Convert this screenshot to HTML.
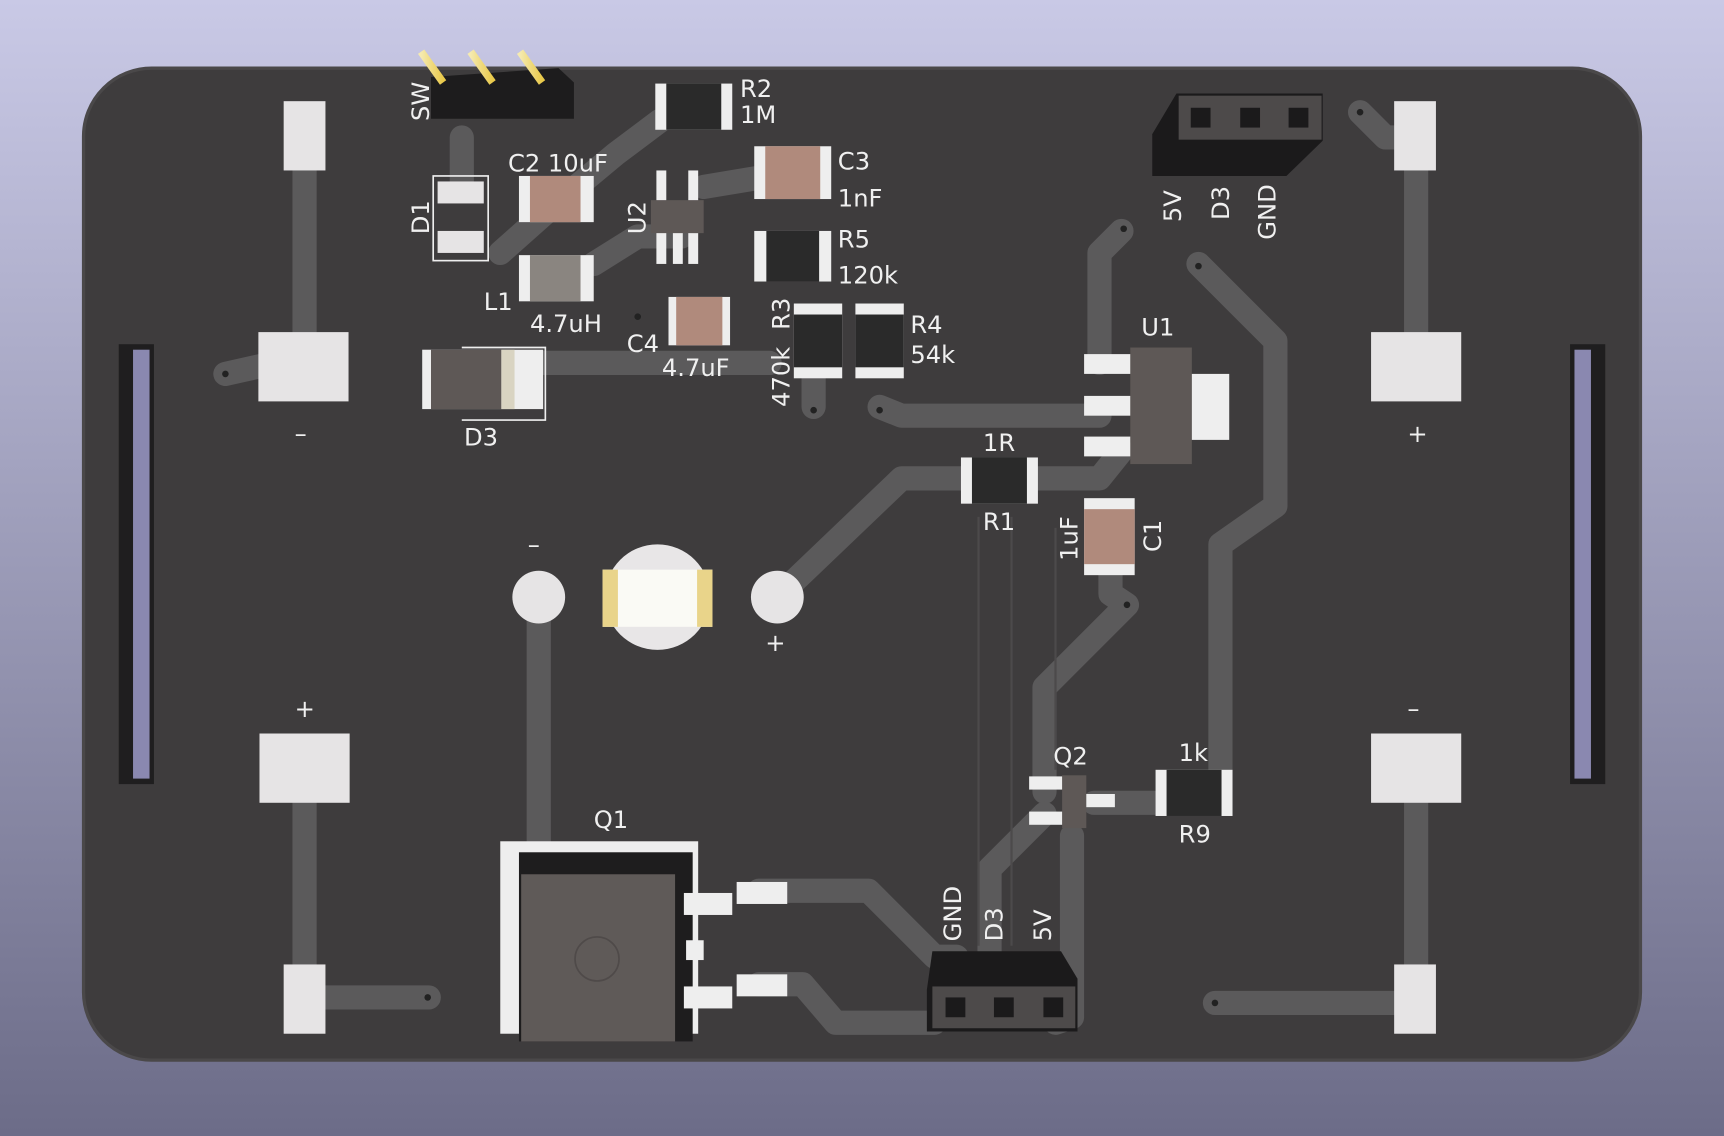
<!DOCTYPE html>
<html><head><meta charset="utf-8"><style>
html,body{margin:0;padding:0;width:1724px;height:1136px;overflow:hidden}
svg{display:block}
text{font-family:"DejaVu Sans","Liberation Sans",sans-serif;fill:#f0f0f0;font-size:22px}
</style></head><body>
<svg width="1724" height="1136" viewBox="0 0 1568 1033" preserveAspectRatio="none">
<defs>
<linearGradient id="bg" x1="0" y1="0" x2="0" y2="1"><stop offset="0" stop-color="#c9c9e6"/><stop offset="1" stop-color="#6c6c88"/></linearGradient>
<linearGradient id="gold" x1="0" y1="0" x2="1" y2="0"><stop offset="0" stop-color="#f5eab0"/><stop offset="1" stop-color="#e9c94a"/></linearGradient>
</defs>
<rect width="1568" height="1033" fill="url(#bg)"/>
<rect x="76" y="62" width="1416" height="902" rx="62" fill="#3e3c3d" stroke="#4a4849" stroke-width="3"/>
<!-- slots -->
<rect x="108" y="313" width="32" height="400" fill="#1f1e1f"/><rect x="121" y="318" width="15" height="390" fill="#8a88b0"/>
<rect x="1428" y="313" width="32" height="400" fill="#1f1e1f"/><rect x="1432" y="318" width="15" height="390" fill="#8a88b0"/>
<!-- traces -->
<g fill="none" stroke="#5b5a5b" stroke-width="22" stroke-linecap="round" stroke-linejoin="round">
<polyline points="277,150 277,310"/><polyline points="205,340 250,330"/>
<polyline points="1288,150 1288,310"/><polyline points="1237,102 1260,125 1280,125"/>
<polyline points="277,720 277,890"/><polyline points="290,907 390,907"/>
<polyline points="1288,720 1288,890"/><polyline points="1105,912 1280,912"/>
<polyline points="490,543 490,780"/>
<polyline points="707,543 820,435 900,435"/><polyline points="940,435 1000,435 1020,410"/>
<polyline points="740,370 740,320"/><polyline points="800,370 820,378 1000,378"/>
<polyline points="1000,330 1000,230 1020,210"/>
<polyline points="1090,240 1160,310 1160,460 1110,495 1110,720"/>
<polyline points="1010,505 1010,540 1025,550 950,625 950,720"/>
<polyline points="995,730 1050,730"/>
<polyline points="950,740 900,790 900,865"/>
<polyline points="975,760 975,925 960,930"/>
<polyline points="690,810 790,810 850,870 870,870"/>
<polyline points="690,895 730,895 760,930 850,930"/>
<polyline points="490,330 700,330"/><polyline points="420,125 420,170"/>
<polyline points="455,230 500,190 560,140 600,110"/>
<polyline points="540,240 580,215 620,215"/>
<polyline points="640,170 700,160"/>
</g>
<g stroke="#4c4a4b" stroke-width="2" fill="none"><line x1="890" y1="470" x2="890" y2="860"/><line x1="920" y1="470" x2="920" y2="860"/><line x1="960" y1="480" x2="960" y2="700"/></g>
<!-- battery pads -->
<g fill="#e6e4e5">
<rect x="258" y="92" width="38" height="63"/><rect x="235" y="302" width="82" height="63"/>
<rect x="1268" y="92" width="38" height="63"/><rect x="1247" y="302" width="82" height="63"/>
<rect x="236" y="667" width="82" height="63"/><rect x="258" y="877" width="38" height="63"/>
<rect x="1247" y="667" width="82" height="63"/><rect x="1268" y="877" width="38" height="63"/>
</g>
<g fill="#222"><circle cx="205" cy="340" r="3"/><circle cx="389" cy="907" r="3"/><circle cx="1105" cy="912" r="3"/><circle cx="1237" cy="102" r="3"/><circle cx="740" cy="373" r="3"/><circle cx="800" cy="373" r="3"/><circle cx="1022" cy="208" r="3"/><circle cx="1090" cy="242" r="3"/><circle cx="1025" cy="550" r="3"/><circle cx="580" cy="288" r="3"/></g>
<text x="268" y="402">–</text><text x="1280" y="402">+</text><text x="268" y="652">+</text><text x="1280" y="652">–</text>
<!-- SW header -->
<polygon points="392,70 508,62 522,75 522,108 392,108" fill="#1d1c1d"/>
<g stroke="url(#gold)" stroke-width="7"><line x1="383" y1="47" x2="403" y2="75"/><line x1="428" y1="47" x2="448" y2="75"/><line x1="473" y1="47" x2="493" y2="75"/></g>
<text transform="translate(390,110) rotate(-90)">SW</text>
<!-- D1 -->
<rect x="394" y="160" width="50" height="77" fill="none" stroke="#eee" stroke-width="1.5"/>
<rect x="398" y="165" width="42" height="20" fill="#e6e4e5"/><rect x="398" y="210" width="42" height="20" fill="#e6e4e5"/>
<text transform="translate(390,213) rotate(-90)">D1</text>
<!-- C2 L1 -->
<rect x="472" y="160" width="68" height="42" fill="#eee"/><rect x="482" y="160" width="46" height="42" fill="#b08a7c"/>
<text x="462" y="156">C2 10uF</text>
<rect x="472" y="232" width="68" height="42" fill="#eee"/><rect x="482" y="232" width="46" height="42" fill="#8a8580"/>
<text x="440" y="282">L1</text><text x="482" y="302">4.7uH</text>
<!-- R2 -->
<rect x="596" y="76" width="70" height="42" fill="#eee"/><rect x="606" y="76" width="50" height="42" fill="#2a2a2a"/>
<text x="673" y="88">R2</text><text x="673" y="112">1M</text>
<!-- U2 -->
<rect x="592" y="182" width="48" height="30" fill="#5e5856"/>
<g fill="#eee"><rect x="597" y="155" width="9" height="27"/><rect x="626" y="155" width="9" height="27"/><rect x="597" y="212" width="9" height="28"/><rect x="612" y="212" width="9" height="28"/><rect x="626" y="212" width="9" height="28"/></g>
<text transform="translate(587,213) rotate(-90)">U2</text>
<!-- C3 R5 -->
<rect x="686" y="133" width="70" height="48" fill="#eee"/><rect x="696" y="133" width="50" height="48" fill="#b08a7c"/>
<text x="762" y="154">C3</text><text x="762" y="188">1nF</text>
<rect x="686" y="210" width="70" height="46" fill="#eee"/><rect x="697" y="210" width="48" height="46" fill="#2a2a2a"/>
<text x="762" y="225">R5</text><text x="762" y="258">120k</text>
<!-- C4 -->
<rect x="608" y="270" width="56" height="44" fill="#eee"/><rect x="615" y="270" width="42" height="44" fill="#b08a7c"/>
<text x="570" y="320">C4</text><text x="602" y="342">4.7uF</text>
<!-- R3 R4 -->
<rect x="722" y="276" width="44" height="68" fill="#eee"/><rect x="722" y="286" width="44" height="48" fill="#2a2a2a"/>
<rect x="778" y="276" width="44" height="68" fill="#eee"/><rect x="778" y="286" width="44" height="48" fill="#2a2a2a"/>
<text transform="translate(718,300) rotate(-90)">R3</text><text transform="translate(718,370) rotate(-90)">470k</text>
<text x="828" y="303">R4</text><text x="828" y="330">54k</text>
<!-- D3 -->
<rect x="384" y="318" width="110" height="54" fill="#eee"/><rect x="392" y="318" width="64" height="54" fill="#5e5856"/><rect x="456" y="318" width="12" height="54" fill="#d9d4c2"/>
<polyline points="420,316 496,316 496,382 420,382" fill="none" stroke="#eee" stroke-width="1.5"/>
<text x="422" y="405">D3</text>
<!-- top connector -->
<polygon points="1048,122 1070,85 1203,85 1203,128 1170,160 1048,160" fill="#1b1a1b"/>
<rect x="1072" y="87" width="130" height="40" fill="#4d4a4a"/>
<g fill="#1b1a1b"><rect x="1083" y="98" width="18" height="18"/><rect x="1128" y="98" width="18" height="18"/><rect x="1172" y="98" width="18" height="18"/></g>
<text transform="translate(1074,202) rotate(-90)">5V</text><text transform="translate(1118,200) rotate(-90)">D3</text><text transform="translate(1160,218) rotate(-90)">GND</text>
<!-- U1 -->
<rect x="1028" y="316" width="56" height="106" fill="#5e5856"/><rect x="1084" y="340" width="34" height="60" fill="#eee"/>
<g fill="#eee"><rect x="986" y="322" width="42" height="18"/><rect x="986" y="360" width="42" height="18"/><rect x="986" y="397" width="42" height="18"/></g>
<text x="1038" y="305">U1</text>
<!-- R1 -->
<rect x="874" y="416" width="70" height="42" fill="#eee"/><rect x="884" y="416" width="50" height="42" fill="#2a2a2a"/>
<text x="894" y="410">1R</text><text x="894" y="482">R1</text>
<!-- C1 -->
<rect x="986" y="453" width="46" height="70" fill="#eee"/><rect x="986" y="463" width="46" height="50" fill="#b08a7c"/>
<text transform="translate(980,510) rotate(-90)">1uF</text><text transform="translate(1056,502) rotate(-90)">C1</text>
<!-- LED -->
<circle cx="598" cy="543" r="48" fill="#e8e6e7"/>
<rect x="548" y="518" width="100" height="52" fill="#fafaf5"/><rect x="548" y="518" width="14" height="52" fill="#e9d48a"/><rect x="634" y="518" width="14" height="52" fill="#e9d48a"/>
<circle cx="490" cy="543" r="24" fill="#e6e4e5"/><circle cx="707" cy="543" r="24" fill="#e6e4e5"/>
<text x="480" y="503">–</text><text x="696" y="592">+</text>
<!-- Q2 R9 -->
<rect x="966" y="705" width="22" height="48" fill="#5e5856"/>
<g fill="#eee"><rect x="936" y="706" width="30" height="12"/><rect x="936" y="738" width="30" height="12"/><rect x="988" y="722" width="26" height="12"/></g>
<text x="958" y="695">Q2</text>
<rect x="1051" y="700" width="70" height="42" fill="#eee"/><rect x="1061" y="700" width="50" height="42" fill="#2a2a2a"/>
<text x="1072" y="692">1k</text><text x="1072" y="766">R9</text>
<!-- Q1 -->
<rect x="455" y="765" width="180" height="175" fill="#eee"/>
<rect x="472" y="775" width="158" height="172" fill="#1e1d1e"/>
<rect x="474" y="795" width="140" height="152" fill="#5f5a58"/>
<circle cx="543" cy="872" r="20" fill="none" stroke="#4f4a49" stroke-width="1.5"/>
<g fill="#eee"><rect x="622" y="812" width="44" height="20"/><rect x="670" y="802" width="46" height="20"/><rect x="624" y="855" width="16" height="18"/><rect x="622" y="897" width="44" height="20"/><rect x="670" y="886" width="46" height="20"/></g>
<polyline points="632,768 632,798" fill="none" stroke="#eee" stroke-width="1.5"/>
<text x="540" y="753">Q1</text>
<!-- bottom connector -->
<polygon points="843,900 848,865 965,865 980,890 980,938 843,938" fill="#1b1a1b"/>
<rect x="848" y="897" width="130" height="38" fill="#4d4a4a"/>
<g fill="#1b1a1b"><rect x="860" y="907" width="18" height="18"/><rect x="904" y="907" width="18" height="18"/><rect x="949" y="907" width="18" height="18"/></g>
<text transform="translate(874,856) rotate(-90)">GND</text><text transform="translate(912,856) rotate(-90)">D3</text><text transform="translate(956,856) rotate(-90)">5V</text>
</svg>
</body></html>
